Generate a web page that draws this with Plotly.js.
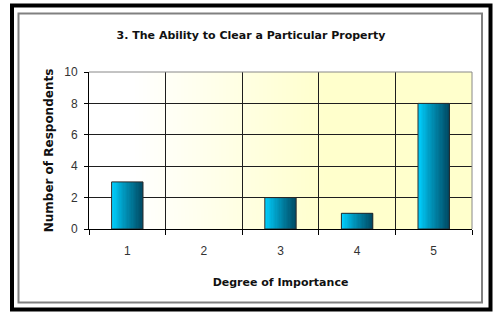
<!DOCTYPE html>
<html><head><meta charset="utf-8">
<script src="https://cdn.plot.ly/plotly-3.0.1.min.js"></script>
<style>html,body{margin:0;padding:0;background:#fff}#chart{width:494px;height:312px}</style>
</head><body><div id="chart"></div>
<script>
// ---- data ----
const categories = ['1', '2', '3', '4', '5'];
const respondents = [3, 0, 2, 1, 8];
const yTickValues = [0, 2, 4, 6, 8, 10];
const chartTitle = '3. The Ability to Clear a Particular Property';
const xAxisTitle = 'Degree of Importance';
const yAxisTitle = 'Number of Respondents';

// ---- layout geometry (pixels) ----
const W = 494, H = 312;
const M = {l: 89, r: 22, t: 72, b: 83};
const PW = W - M.l - M.r, PH = H - M.t - M.b;
const px = x => (x - M.l) / PW;
const py = y => (H - M.b - y) / PH;

// ---- gradient bars built from slices ----
const barWidth = 0.41;
const slices = 24;
const cLeft = [0, 208, 255], cRight = [0, 74, 100];
const traces = [];
for (let i = 0; i < slices; i++) {
  const t = i / (slices - 1);
  const c = cLeft.map((v, k) => Math.round(v + (cRight[k] - v) * Math.pow(t, 0.9)));
  traces.push({
    type: 'bar', x: categories, y: respondents,
    width: barWidth / slices + 0.003,
    offset: -barWidth / 2 + i * barWidth / slices,
    marker: {color: 'rgb(' + c.join(',') + ')', line: {width: 0}},
    hoverinfo: 'skip', showlegend: false
  });
}
traces.push({
  type: 'bar', x: categories, y: respondents,
  width: barWidth, offset: -barWidth / 2,
  marker: {color: 'rgba(0,0,0,0)', line: {color: '#2a2a2a', width: respondents.map(v => v > 0 ? 1 : 0)}},
  showlegend: false
});

// ---- plot-area background gradient ----
const cv = document.createElement('canvas');
cv.width = 400; cv.height = 4;
const g = cv.getContext('2d');
const grd = g.createLinearGradient(0, 0, 400, 0);
grd.addColorStop(0, '#ffffff');
grd.addColorStop(0.12, '#ffffff');
grd.addColorStop(0.62, '#ffffcc');
grd.addColorStop(1, '#ffffcc');
g.fillStyle = grd; g.fillRect(0, 0, 400, 4);
const bgImg = cv.toDataURL();

const tickFont = {family: 'Liberation Sans, Arial, sans-serif', size: 12, color: '#333333'};

const layout = {
  width: W, height: H,
  margin: M,
  paper_bgcolor: '#ffffff',
  plot_bgcolor: 'rgba(0,0,0,0)',
  barmode: 'overlay',
  bargap: 0,
  title: {
    text: chartTitle,
    font: {family: 'DejaVu Sans, sans-serif', size: 11, color: '#111111', weight: 'bold'},
    xref: 'container', x: 251 / W, xanchor: 'center',
    yref: 'container', y: 1 - 35 / H, yanchor: 'middle'
  },
  xaxis: {
    type: 'category', range: [-0.5, 4.5],
    tickson: 'boundaries', ticks: 'outside', ticklen: 5, tickcolor: '#000000', tickwidth: 1,
    showgrid: true, gridcolor: '#1e1e1e', gridwidth: 1,
    showline: true, linecolor: '#000000', linewidth: 1,
    tickfont: tickFont, ticklabelstandoff: 11,
    title: {text: xAxisTitle, font: {family: 'DejaVu Sans, sans-serif', size: 11, color: '#111111', weight: 'bold'}, standoff: 20},
    fixedrange: true
  },
  yaxis: {
    range: [0, 10], tickvals: yTickValues,
    ticks: 'outside', ticklen: 4, tickcolor: '#000000',
    showgrid: true, gridcolor: '#1e1e1e', gridwidth: 1,
    zeroline: false,
    showline: true, linecolor: '#000000', linewidth: 1,
    tickfont: tickFont, ticklabelstandoff: 4,
    title: {text: yAxisTitle, font: {family: 'DejaVu Sans, sans-serif', size: 12, color: '#111111', weight: 'bold'}, standoff: 8},
    fixedrange: true
  },
  images: [{
    source: bgImg, xref: 'paper', yref: 'paper', x: 0, y: 1, sizex: 1, sizey: 1,
    sizing: 'stretch', xanchor: 'left', yanchor: 'top', layer: 'below'
  }],
  shapes: [
    {type: 'rect', xref: 'paper', yref: 'paper', x0: px(12), x1: px(490.5), y0: py(309.5), y1: py(5.5),
     line: {color: '#000000', width: 4}, fillcolor: 'rgba(0,0,0,0)', layer: 'above'},
    {type: 'rect', xref: 'paper', yref: 'paper', x0: px(18.5), x1: px(482), y0: py(302.5), y1: py(13.5),
     line: {color: '#808080', width: 2}, fillcolor: 'rgba(0,0,0,0)', layer: 'above'},
    {type: 'line', xref: 'paper', yref: 'paper', x0: 0, x1: 1, y0: 1, y1: 1,
     line: {color: '#888888', width: 1}, layer: 'above'},
    {type: 'line', xref: 'paper', yref: 'paper', x0: 1, x1: 1, y0: 0, y1: 1,
     line: {color: '#888888', width: 1}, layer: 'above'}
  ]
};

Plotly.newPlot('chart', traces, layout, {displayModeBar: false, staticPlot: true});
</script>
</body></html>
